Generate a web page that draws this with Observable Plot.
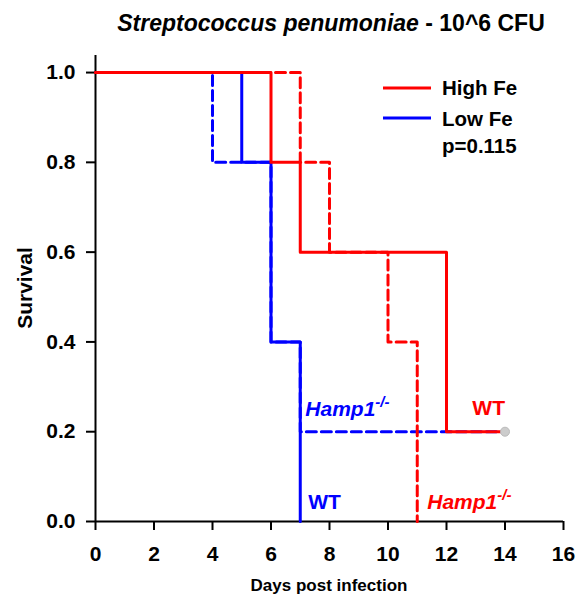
<!DOCTYPE html>
<html><head><meta charset="utf-8">
<script src="https://cdn.jsdelivr.net/npm/d3@7"></script>
<script src="https://cdn.jsdelivr.net/npm/@observablehq/plot@0.6"></script>
<style>body{margin:0;background:#fff}</style>
</head><body><div id="chart"></div><script>
// Kaplan–Meier step data (days, survival)
const highWT_t = [0, 6, 7, 12, 14];
const highWT_s = [1, 0.8, 0.6, 0.2, 0.2];
const highKO_t = [0, 7, 8, 10, 11];
const highKO_s = [1, 0.8, 0.6, 0.4, 0];
const lowWT_t = [0, 5, 6, 7];
const lowWT_s = [1, 0.8, 0.4, 0];
const lowKO_t = [0, 4, 6, 7, 14];
const lowKO_s = [1, 0.8, 0.4, 0.2, 0.2];
const censor_t = [14];
const censor_s = [0.2];
const xTicks = [0, 2, 4, 6, 8, 10, 12, 14, 16];
const yTicks = [0, 0.2, 0.4, 0.6, 0.8, 1.0];
const legendLabels = ["High Fe", "Low Fe"];
const pValue = "p=0.115";

const RED = "#ff0000", BLUE = "#0000ff";
const rows = (t, s) => t.map((d, i) => ({t: d, s: s[i]}));
const FONT = "'Liberation Sans', Arial, Helvetica, sans-serif";

const plot = Plot.plot({
  width: 579, height: 599,
  marginLeft: 95, marginRight: 16, marginTop: 55, marginBottom: 78,
  style: {fontFamily: FONT, fontSize: "21px", fontWeight: "bold", background: "#fff", color: "#000"},
  x: {domain: [0, 16]},
  y: {domain: [0, 1.038]},
  marks: [
    Plot.axisX({ticks: xTicks, tickSize: 9, tickPadding: 16, label: null, strokeWidth: 2}),
    Plot.axisY({ticks: yTicks, tickSize: 9, tickPadding: 11, label: null, strokeWidth: 2, tickFormat: d3.format(".1f")}),
    Plot.ruleX([0], {stroke: "#000", strokeWidth: 2}),
    Plot.ruleY([0], {stroke: "#000", strokeWidth: 2}),
    Plot.line(rows(lowKO_t, lowKO_s), {x: "t", y: "s", curve: "step-after", stroke: BLUE, strokeWidth: 3, strokeDasharray: "10,5"}),
    Plot.line(rows(lowWT_t, lowWT_s), {x: "t", y: "s", curve: "step-after", stroke: BLUE, strokeWidth: 3}),
    Plot.line(rows(highKO_t, highKO_s), {x: "t", y: "s", curve: "step-after", stroke: RED, strokeWidth: 3, strokeDasharray: "10,5"}),
    Plot.line(rows(highWT_t, highWT_s), {x: "t", y: "s", curve: "step-after", stroke: RED, strokeWidth: 3}),
    Plot.dot(rows(censor_t, censor_s), {x: "t", y: "s", r: 4.5, fill: "#cccccc", stroke: "#bbbbbb", strokeWidth: 1})
  ]
});
document.getElementById("chart").appendChild(plot);

const svg = d3.select(plot);
const sx = plot.scale("x"), sy = plot.scale("y");
const addText = (x, y, size, extra = {}) => {
  const t = svg.append("text").attr("x", x).attr("y", y).attr("font-size", size)
    .attr("font-weight", "bold").attr("font-family", FONT).attr("text-anchor", "start").attr("fill", "#000");
  Object.entries(extra).forEach(([k, v]) => t.attr(k, v));
  return t;
};

// Title
const title = addText(331, 31, 23, {"text-anchor": "middle"});
title.append("tspan").attr("font-style", "italic").attr("font-weight", "bold").text("Streptococcus penumoniae");
title.append("tspan").attr("font-weight", "bold").text(" - 10^6 CFU");

// Axis titles
svg.append("text").attr("transform", "translate(32,288) rotate(-90)").attr("text-anchor", "middle")
  .attr("font-size", 21).attr("font-weight", "bold").attr("font-family", FONT).attr("fill", "#000").text("Survival");
addText(329, 591, 17, {"text-anchor": "middle"}).text("Days post infection");

// Legend
[[RED, 88, 95], [BLUE, 118, 126]].forEach(([c, ly, ty], i) => {
  svg.append("line").attr("x1", 383).attr("x2", 431).attr("y1", ly).attr("y2", ly)
    .attr("stroke", c).attr("stroke-width", 3);
  addText(442, ty, 20.5).text(legendLabels[i]);
});
addText(442, 153, 20.5).text(pValue);

// Curve annotations
function hamp(xv, yv, color) {
  const t = addText(sx.apply(xv), sy.apply(yv), 21, {"font-style": "italic", fill: color});
  t.append("tspan").text("Hamp1");
  t.append("tspan").attr("dy", -9).attr("font-size", 15).text("-/-");
}
function wt(xv, yv, color) {
  addText(sx.apply(xv), sy.apply(yv), 21, {fill: color}).text("WT");
}
hamp(7.19, 0.233, BLUE);
wt(12.9, 0.235, RED);
wt(7.29, 0.026, BLUE);
hamp(11.36, 0.026, RED);
</script></body></html>
